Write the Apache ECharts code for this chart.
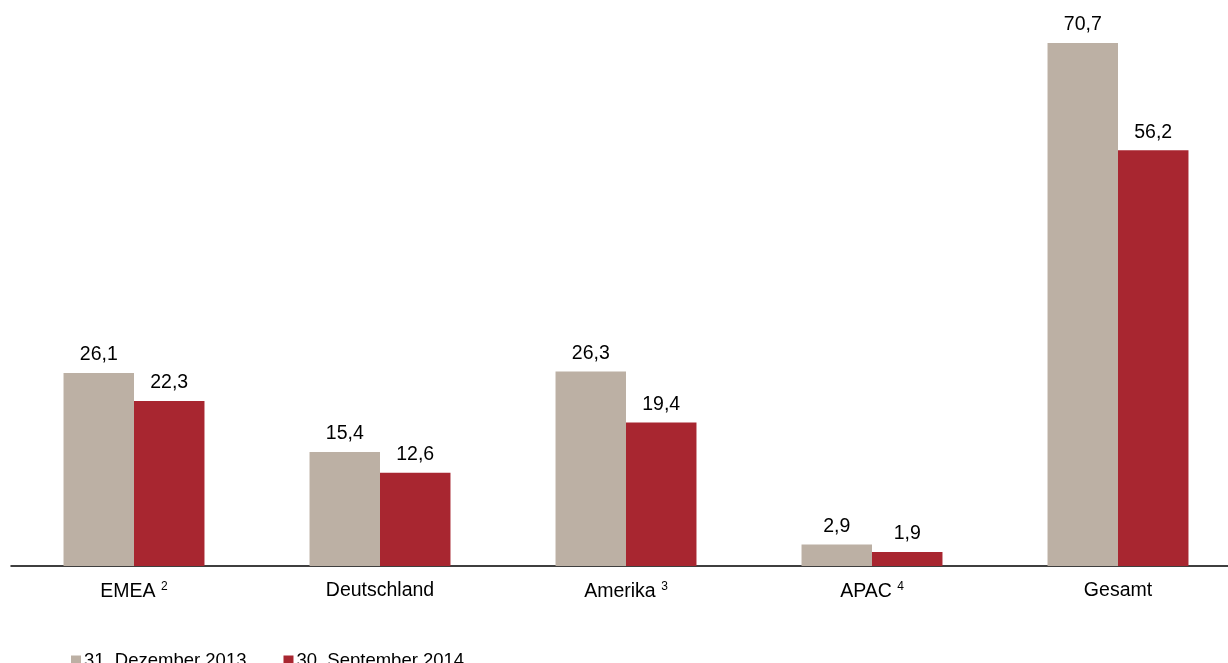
<!DOCTYPE html>
<html>
<head>
<meta charset="utf-8">
<script src="https://cdn.jsdelivr.net/npm/echarts@6/dist/echarts.min.js"></script>
<style>
  html, body { margin: 0; padding: 0; background: #fff; }
  #chart { width: 1228px; height: 663px; }
</style>
</head>
<body>
<div id="chart"></div>
<script>
  // categories, with footnote marks
  var categories = ['EMEA', 'Deutschland', 'Amerika', 'APAC', 'Gesamt'];
  var footnotes = ['2', '', '3', '4', ''];
  var seriesNames = ['31. Dezember 2013', '30. September 2014'];
  var dec2013 = [26.1, 15.4, 26.3, 2.9, 70.7];
  var sep2014 = [22.3, 12.6, 19.4, 1.9, 56.2];

  var chart = echarts.init(document.getElementById('chart'));

  var fmt = function (p) {
    return p.value.toFixed(1).replace('.', ',');
  };

  chart.setOption({
    animation: false,
    textStyle: { fontFamily: 'Liberation Sans, Arial, sans-serif' },
    grid: {
      left: 11,
      right: -13,
      top: 43,
      bottom: 97,
      outerBoundsMode: 'none',
      containLabel: false,
    },
    legend: {
      data: seriesNames,
      left: 66,
      top: 646,
      itemWidth: 10,
      itemHeight: 10,
      itemGap: 37,
      icon: 'rect',
      textStyle: { fontSize: 18.5, color: '#000', padding: [0, 0, 0, -2] },
    },
    xAxis: {
      type: 'category',
      data: categories,
      axisLine: { lineStyle: { color: '#000', width: 1.5 } },
      axisTick: { show: false },
      axisLabel: {
        margin: 15,
        formatter: function (v, i) {
          return footnotes[i] ? '{a|' + v + ' }{s|' + footnotes[i] + '}' : '{a|' + v + '}';
        },
        rich: {
          a: { fontSize: 19.5, color: '#000' },
          s: { fontSize: 12, color: '#000', verticalAlign: 'top', padding: [0, 0, 10, 0] },
        },
      },
    },
    yAxis: {
      type: 'value',
      min: 0,
      max: 70.7,
      show: false,
      splitLine: { show: false },
    },
    series: [
      {
        name: seriesNames[0],
        type: 'bar',
        data: dec2013,
        barGap: '0%',
        barCategoryGap: '42.7%',
        itemStyle: { color: '#BCB0A4' },
        label: { show: true, position: 'top', distance: 8, fontSize: 19.5, color: '#000', formatter: fmt },
      },
      {
        name: seriesNames[1],
        type: 'bar',
        data: sep2014,
        barGap: '0%',
        barCategoryGap: '42.7%',
        itemStyle: { color: '#A82630' },
        label: { show: true, position: 'top', distance: 8, fontSize: 19.5, color: '#000', formatter: fmt },
      },
    ],
  });
</script>
</body>
</html>
